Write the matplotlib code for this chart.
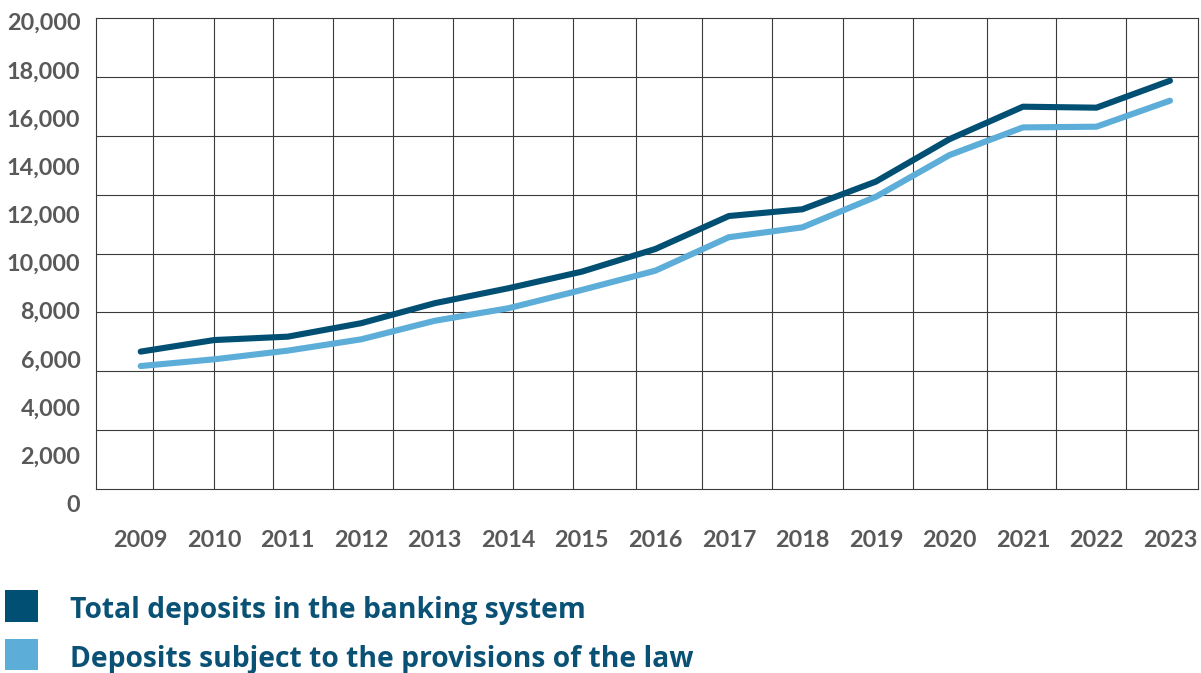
import matplotlib
matplotlib.use("Agg")
import matplotlib.pyplot as plt
from matplotlib.patches import Rectangle
from matplotlib.ticker import FuncFormatter, MultipleLocator

# ── data ────────────────────────────────────────────────────────────────
years = [2009, 2010, 2011, 2012, 2013, 2014, 2015, 2016,
         2017, 2018, 2019, 2020, 2021, 2022, 2023]
total_deposits = [6300, 6780, 6920, 7480, 8310, 8930, 9620, 10560,
                  11930, 12210, 13360, 15120, 16470, 16430, 17550]
covered_deposits = [5700, 5980, 6340, 6810, 7580, 8100, 8860, 9660,
                    11050, 11460, 12730, 14460, 15610, 15640, 16720]
series_labels = ["Total deposits in the banking system",
                 "Deposits subject to the provisions of the law"]

# ── style ───────────────────────────────────────────────────────────────
DARK = "#024F74"
LIGHT = "#5CADD8"
TICK_COLOR = "#595959"
LEGEND_TEXT = "#0A5275"
GRID_COLOR = "#3a3a3a"
W, H = 1201, 673

# vertical rules of the background grid, as fractions of the box width
GRID_X = [0.0524, 0.1070, 0.1611, 0.2156, 0.2700, 0.3244, 0.3783, 0.4327,
          0.4902, 0.5503, 0.6133, 0.6782, 0.7417, 0.8086, 0.8712, 0.9347]


def px_box(left, top, right, bottom):
    """Pixel box (origin top-left) -> figure-fraction rect."""
    return [left / W, 1 - bottom / H, (right - left) / W, (bottom - top) / H]


fig = plt.figure(figsize=(W / 100, H / 100), dpi=100)

# background grid box
gax = fig.add_axes(px_box(95.7, 18.3, 1198, 489))
gax.set_xlim(0, 1)
gax.set_ylim(0, 1)
gax.set_xticks(GRID_X)
gax.set_yticks([i / 8 for i in range(1, 8)])
gax.grid(True, color=GRID_COLOR, lw=0.8)
gax.tick_params(length=0, labelbottom=False, labelleft=False)
for s in gax.spines.values():
    s.set_color(GRID_COLOR)
    s.set_linewidth(0.8)

# data axes (transparent, carries the tick labels)
ax = fig.add_axes(px_box(95.7, 21.7, 1198, 503.3))
ax.patch.set_alpha(0)
for s in ax.spines.values():
    s.set_visible(False)

ax.plot(years, total_deposits, color=DARK, lw=4.4, solid_capstyle="round",
        solid_joinstyle="round", zorder=3)
ax.plot(years, covered_deposits, color=LIGHT, lw=4.4, solid_capstyle="round",
        solid_joinstyle="round", zorder=2)

ax.set_xlim(2008.388, 2023.381)
ax.set_ylim(0, 20000)
ax.set_xticks(years)
ax.yaxis.set_major_locator(MultipleLocator(2000))
ax.yaxis.set_major_formatter(FuncFormatter(lambda v, _: f"{v:,.0f}"))
ax.tick_params(axis="y", length=0, pad=11, labelsize=16.8, labelcolor=TICK_COLOR)
ax.tick_params(axis="x", length=0, pad=19.5, labelsize=16.8, labelcolor=TICK_COLOR)
for lab in ax.get_xticklabels() + ax.get_yticklabels():
    lab.set_fontfamily("Lato")
    lab.set_fontweight("bold")

# legend: coloured squares with text beside them
for (top, bottom), baseline, color, label in zip([(590, 622), (639, 670)],
                                                 [618.3, 666.7],
                                                 [DARK, LIGHT], series_labels):
    x0, y0, w, h = px_box(5, top, 38, bottom)
    fig.add_artist(Rectangle((x0, y0), w, h, transform=fig.transFigure,
                             facecolor=color, edgecolor="none"))
    fig.text(70 / W, 1 - baseline / H, label, ha="left", va="baseline",
             fontsize=20.3, fontweight="bold", family="Open Sans",
             color=LEGEND_TEXT)

fig.savefig("out.png", dpi=100)
